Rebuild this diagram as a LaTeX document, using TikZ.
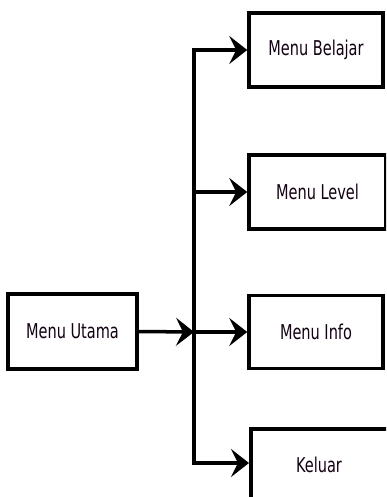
\documentclass[tikz,border=0pt]{standalone}
\usepackage{fontspec}
\setmainfont{DejaVu Sans Condensed}
\usetikzlibrary{arrows.meta}
\tikzset{
  box/.style={draw=black, line width=3.5pt, fill=white, rectangle, inner sep=0pt,
    font=\fontsize{17}{20}\selectfont, text=black!85!violet},
  link/.style={draw=black, line width=3.5pt},
  arr/.style={link, -{Stealth[length=18pt,width=28pt,inset=7pt]}},
}
\newcommand{\tallt}[1]{\scalebox{0.95}[1.2]{#1}}
\begin{document}
\begin{tikzpicture}[x=1pt,y=-1pt]
\useasboundingbox (0,0) rectangle (386,497);
\fill[white] (0,0) rectangle (386,497);
\clip (0,0) rectangle (386,497);
\node[box, minimum width=129, minimum height=75] (mu) at (72.5,331.5) {\tallt{Menu Utama}};
\node[box, minimum width=134, minimum height=74] (bel) at (316,50) {\tallt{Menu Belajar}};
\node[box, minimum width=137, minimum height=74] (lev) at (317.5,192) {\tallt{Menu Level}};
\node[box, minimum width=134, minimum height=73] (inf) at (316,332) {\tallt{Menu Info}};
\node[box, minimum width=150, minimum height=72, anchor=north west] (kel) at (249,427) {};
\node[font=\fontsize{17}{20}\selectfont, text=black!85!violet] (keltxt) at (319,465) {\tallt{Keluar}};
\coordinate (ttop) at (194,50);
\coordinate (tbot) at (194,463);
\coordinate (tmid) at (194,332);
\draw[link] (ttop) -- (tbot);
\draw[arr] (mu.east) -- (tmid);
\draw[arr] ([xshift=-1.75pt]ttop) -- (bel.west);
\draw[arr] (lev.west -| ttop) -- (lev.west);
\draw[arr] (tmid) -- (inf.west);
\draw[arr] ([xshift=-1.75pt]tbot) -- (kel.west |- tbot);
\end{tikzpicture}
\end{document}
